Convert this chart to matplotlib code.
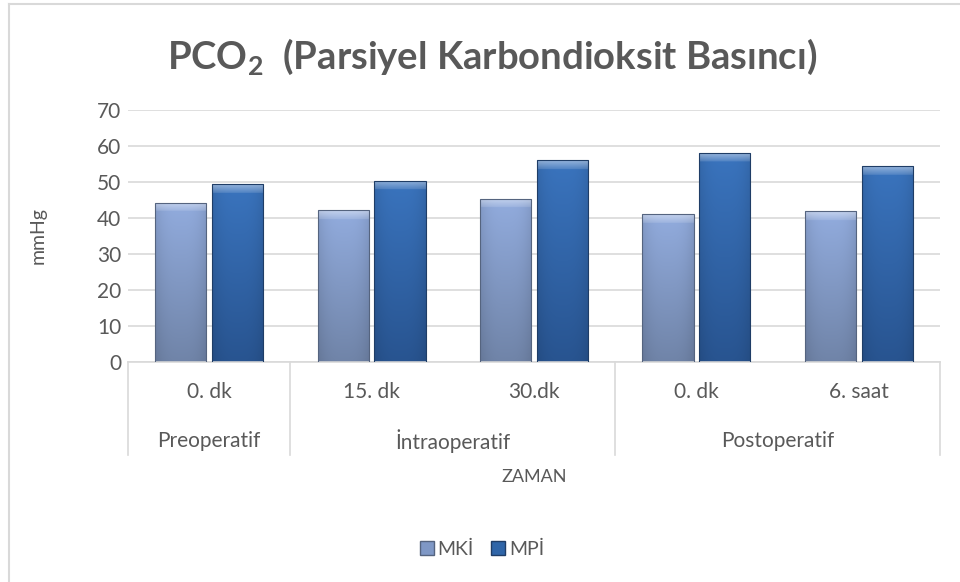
import numpy as np
import matplotlib.pyplot as plt
from matplotlib.patches import Patch
from matplotlib.lines import Line2D
import matplotlib.transforms as mtransforms

plt.rcParams['font.family'] = ['Lato', 'DejaVu Sans']
plt.rcParams['mathtext.fontset'] = 'custom'
plt.rcParams['mathtext.rm'] = 'Lato'
plt.rcParams['mathtext.bf'] = 'Lato:bold'

# data
time_labels = ['0. dk', '15. dk', '30.dk', '0. dk', '6. saat']
phase_labels = ['Preoperatif', 'İntraoperatif', 'Postoperatif']
phase_spans = [(0, 0), (1, 2), (3, 4)]
mki = [44.3, 42.2, 45.3, 41.1, 41.9]
mpi = [49.4, 50.4, 56.1, 58.0, 54.4]
series_names = ['MKİ', 'MPİ']

text_col = '#595959'
grid_col = '#d9d9d9'

fig = plt.figure(figsize=(9.6, 5.82), dpi=100)
ax = fig.add_axes([128 / 960, 1 - 362 / 582, 812 / 960, 252 / 582])

x = np.arange(len(time_labels))
w = 0.315
off = 0.35


def gradient_bar(patch, top_rgb, bot_rgb):
    x0, y0 = patch.get_x(), patch.get_y()
    bw, bh = patch.get_width(), patch.get_height()
    ny, nx = 200, 60
    t = np.linspace(0, 1, ny)[:, None]          # 0 = top row
    top = np.array(top_rgb) / 255
    bot = np.array(bot_rgb) / 255
    img = top[None, None, :] * (1 - t[..., None]) + bot[None, None, :] * t[..., None]
    img = np.repeat(img, nx, axis=1)
    u = np.linspace(-1, 1, nx)
    shade = 1 - 0.10 * np.abs(u) ** 3
    img = img * shade[None, :, None]
    # bevel on top
    bevel_rows = int(ny * 2.6 / bh)
    for r in range(bevel_rows):
        k = 1 - r / max(bevel_rows, 1)
        img[r] = img[r] + (1 - img[r]) * (0.35 * k + 0.1)
    img = np.clip(img, 0, 1)
    im = ax.imshow(img, extent=[x0, x0 + bw, y0, y0 + bh], aspect='auto',
                   zorder=2, interpolation='bilinear')
    im.set_clip_path(patch)


bars1 = ax.bar(x - off / 2, mki, w, facecolor='none', edgecolor='#55647f', linewidth=0.8, zorder=3)
bars2 = ax.bar(x + off / 2, mpi, w, facecolor='none', edgecolor='#1f3d66', linewidth=0.8, zorder=3)
for p in bars1:
    gradient_bar(p, (146, 172, 222), (112, 132, 168))
for p in bars2:
    gradient_bar(p, (58, 116, 190), (40, 84, 144))

ax.set_xlim(-0.5, len(time_labels) - 0.5)
ax.set_ylim(0, 70)
ax.set_yticks(range(0, 71, 10))
ax.yaxis.grid(True, color=grid_col, linewidth=1.2)
ax.set_axisbelow(True)
for s in ['top', 'right', 'left']:
    ax.spines[s].set_visible(False)
ax.spines['bottom'].set_color(grid_col)
ax.spines['bottom'].set_linewidth(1.2)
ax.tick_params(axis='y', length=0, labelsize=15, labelcolor=text_col, pad=5)
ax.set_xticks([])
ax.set_ylabel('mmHg', fontsize=14, color=text_col)
ax.yaxis.set_label_coords(-0.1, 0.5)

# multi-level category axis
trans = mtransforms.blended_transform_factory(ax.transData, ax.transAxes)
for xi, lab in zip(x, time_labels):
    ax.text(xi, -0.119, lab, transform=trans, ha='center', va='center',
            fontsize=15, color=text_col)
for (a, b), lab in zip(phase_spans, phase_labels):
    ax.text((a + b) / 2, -0.313, lab, transform=trans, ha='center', va='center',
            fontsize=15, color=text_col)
for sep in [-0.5] + [b + 0.5 for a, b in phase_spans]:
    ax.add_line(Line2D([sep, sep], [0, -0.369], transform=trans, color=grid_col,
                       linewidth=1.2, clip_on=False))
ax.text(2, -0.456, 'ZAMAN', transform=trans, ha='center', va='center',
        fontsize=13, color=text_col)

fig.text(492 / 960, 1 - 57 / 582, r'PCO$_\mathbf{2}$  (Parsiyel Karbondioksit Basıncı)',
         ha='center', va='center', fontsize=27.5, fontweight='bold', color=text_col)

handles = [Patch(facecolor='#7f98c6', edgecolor='#55647f'),
           Patch(facecolor='#2f65a8', edgecolor='#1f3d66')]
fig.legend(handles, series_names, loc='center', bbox_to_anchor=(482 / 960, 1 - 549 / 582),
           ncol=2, frameon=False, fontsize=14, handlelength=0.7, handleheight=0.7,
           handletextpad=0.2, columnspacing=0.9, labelcolor=text_col)

# chart border (top and left edges visible)
fig.add_artist(Line2D([8.5 / 960, 8.5 / 960], [0, 1 - 3.5 / 582], color=grid_col, linewidth=1.5))
fig.add_artist(Line2D([8.5 / 960, 1], [1 - 3.5 / 582, 1 - 3.5 / 582], color=grid_col, linewidth=1.5))

fig.savefig('out.png', dpi=100, facecolor='white')
